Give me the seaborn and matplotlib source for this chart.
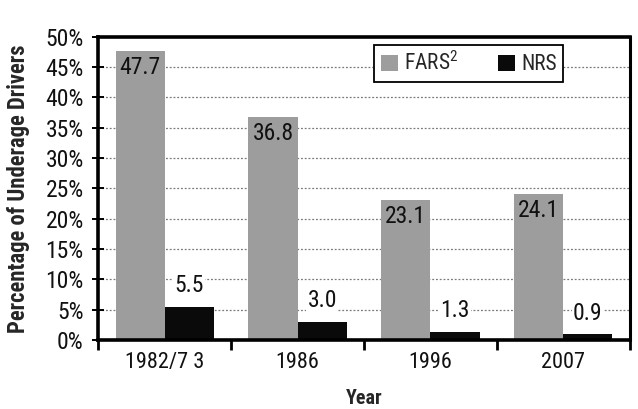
import matplotlib
matplotlib.use("Agg")
import matplotlib.pyplot as plt
from matplotlib.patches import Patch
import seaborn as sns
import pandas as pd

years = ["1982/7 3", "1986", "1996", "2007"]
sources = ["FARS", "NRS"]
fars = [47.7, 36.8, 23.1, 24.1]
nrs = [5.5, 3.0, 1.3, 0.9]
yticks = [0, 5, 10, 15, 20, 25, 30, 35, 40, 45, 50]

df = pd.DataFrame({
    "Year": years * 2,
    "Source": [sources[0]] * len(years) + [sources[1]] * len(years),
    "Value": fars + nrs,
})

sns.set_theme(style="white")
plt.rcParams["font.family"] = ["Roboto Condensed", "DejaVu Sans"]
plt.rcParams["mathtext.default"] = "regular"
plt.rcParams["mathtext.fontset"] = "custom"
plt.rcParams["mathtext.rm"] = "Roboto Condensed"

fig = plt.figure(figsize=(6.38, 4.09), dpi=100)
ax = fig.add_axes([0.154, 0.169, 0.833, 0.741])

gray = "#9d9d9d"
black = "#0a0a0a"
sns.barplot(data=df, x="Year", y="Value", hue="Source", order=years,
            hue_order=sources, palette=[gray, black], width=0.74,
            saturation=1, linewidth=0, legend=False, ax=ax)

ax.set_ylim(0, 50)
ax.set_xlim(-0.5, len(years) - 0.5)
ax.set_yticks(yticks)
ax.set_yticklabels([f"{v}%" for v in yticks], fontsize=17, color="#111111")
ax.yaxis.grid(True, linestyle=(0, (1.5, 1.5)), color="#7a7a7a", linewidth=0.9)
ax.set_axisbelow(True)

# category labels centered, tick marks at group boundaries
ax.set_xticks(range(len(years)))
ax.set_xticklabels(years, fontsize=16, color="#111111")
ax.tick_params(axis="x", which="major", length=0, pad=9)
ax.set_xticks([i - 0.5 for i in range(len(years) + 1)], minor=True)
ax.tick_params(axis="x", which="minor", direction="out", length=7, width=2, color="black", bottom=True)
ax.tick_params(axis="y", direction="inout", length=8, width=1.4, color="black", left=True, pad=6.5)

for side in ["left", "top", "bottom"]:
    ax.spines[side].set_visible(True)
    ax.spines[side].set_color("black")
    ax.spines[side].set_linewidth(2.6)
ax.spines["right"].set_visible(True)
ax.spines["right"].set_color("black")
ax.spines["right"].set_linewidth(2.2)

ax.set_ylabel("Percentage of Underage Drivers", fontsize=16.3, fontweight="bold", labelpad=11)
ax.set_xlabel("Year", fontsize=14.5, fontweight="bold", labelpad=11)

# value labels: FARS inside the top of the bar, NRS above the bar
fars_bars, nrs_bars = ax.containers[0], ax.containers[1]
for bar, v in zip(fars_bars, fars):
    ax.annotate(f"{v:.1f}", (bar.get_x() + bar.get_width() / 2, v),
                xytext=(0, -4), textcoords="offset points",
                ha="center", va="top", fontsize=17, color="#111111")
for bar, v in zip(nrs_bars, nrs):
    ax.annotate(f"{v:.1f}", (bar.get_x() + bar.get_width() / 2, v),
                xytext=(0, 7), textcoords="offset points",
                ha="center", va="bottom", fontsize=17, color="#111111",
                bbox=dict(boxstyle="square,pad=0.05", fc="white", ec="none"))

handles = [Patch(facecolor=gray, edgecolor="none", label="FARS$^2$"),
           Patch(facecolor=black, edgecolor="none", label="NRS")]
leg = ax.legend(handles=handles, loc="upper right", bbox_to_anchor=(0.875, 0.972),
                ncol=2, fontsize=15.5, frameon=True, fancybox=False,
                handlelength=0.8, handleheight=0.8, handletextpad=0.3,
                columnspacing=1.8, borderpad=0.3, borderaxespad=0)
leg.get_frame().set_edgecolor("black")
leg.get_frame().set_linewidth(1.3)
leg.get_frame().set_facecolor("white")
leg.get_frame().set_alpha(1)

fig.savefig("out.png", dpi=100, facecolor="white")
